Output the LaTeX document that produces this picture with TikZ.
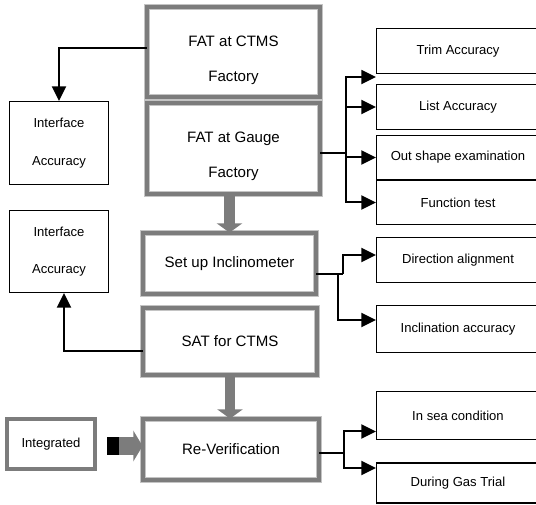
\documentclass[tikz,border=0pt]{standalone}
\usepackage{fontspec}
\setmainfont{Liberation Sans}
\usetikzlibrary{arrows.meta, calc}
\definecolor{bnd}{HTML}{7C7C7C}
\definecolor{rim}{HTML}{C4C4C4}

\begin{document}
\begin{tikzpicture}[>={Triangle[length=11pt, width=10.5pt]}, x=0.75pt, y=-0.75pt,
    line width=1.5pt,
    mainbox/.style 2 args={draw=rim, double=bnd, line width=0.6pt,
      double distance=3.6pt, minimum width=#1*0.75pt, minimum height=#2*0.75pt,
      align=center, inner sep=0pt, font=\fontsize{11.3pt}{13.5pt}\selectfont},
    sidebox/.style 2 args={draw, line width=0.8pt, minimum width=#1*0.75pt,
      minimum height=#2*0.75pt, align=center, inner sep=0pt,
      font=\fontsize{9.8pt}{12pt}\selectfont},
    chkbox/.style={draw, line width=0.8pt, minimum width=163*0.75pt,
      minimum height=#1*0.75pt, inner sep=0pt,
      font=\fontsize{9.8pt}{12pt}\selectfont},
    blockarr/.style={bnd, line width=8pt, -{Triangle[length=7pt, width=19pt]}}]
  \useasboundingbox (0,0) rectangle (536,505);
  % main column
  \node[mainbox={173}{90}] (ctms) at (233.5,52)
    {\rule{0pt}{20pt}FAT at CTMS\\[12.5pt]Factory};
  \node[mainbox={173}{91}] (gauge) at (233.5,148.5)
    {\rule{0pt}{20pt}FAT at Gauge\\[12.5pt]Factory};
  \node[mainbox={173}{61}] (setup) at (229.5,263.5) {Set up Inclinometer};
  \node[mainbox={174}{67}] (sat) at (230,341.5) {SAT for CTMS};
  \node[mainbox={176}{61}] (rever) at (231,449.5) {Re-Verification};
  % left side
  \node[sidebox={99}{83}] (ia1) at (59,143) {Interface\\[16pt]Accuracy};
  \node[sidebox={99}{82}] (ia2) at (59,251.5) {Interface\\[16pt]Accuracy};
  \node[sidebox={88}{50}, draw=rim, double=bnd, line width=0.4pt,
    double distance=2.6pt] (integ) at (51,444) {Integrated};
  % right side checks
  \node[chkbox=45] (trim) at (458,51) {Trim Accuracy};
  \node[chkbox=45] (list) at (458,107) {List Accuracy};
  \node[chkbox=44] (outs) at (458,157.5) {Out shape examination};
  \node[chkbox=44] (func) at (458,202.5) {Function test};
  \node[chkbox=45] (dira) at (458,260) {Direction alignment};
  \node[chkbox=47] (inca) at (458,329) {Inclination accuracy};
  \node[chkbox=48] (insea) at (458,415.5) {In sea condition};
  \node[chkbox=40] (gas) at (458,483) {During Gas Trial};
  % connectors
  \draw[->] ($(ctms.west)+(0,-4)$) -| (ia1.north);
  \draw[->] ($(sat.west)+(0,10)$) -| ($(ia2.south)+(5,0)$);
  \draw ($(gauge.east)+(0,5)$) -- ++(26,0) coordinate (gj);
  \draw[->] (gj) |- ($(trim.south west)+(0,3)$);
  \foreach \t in {list,outs,func}
    \draw[->] (gj) |- (\t.west);
  \draw ($(setup.east)+(0,11)$) -- ++(27,0) coordinate (sj);
  \draw[->] (sj) |- ($(dira.west)+(0,-5)$);
  \draw[->] ($(sj)+(-5,0)$) |- ($(inca.west)+(0,-9)$);
  \draw ($(rever.east)+(0,4)$) -- ++(25,0) coordinate (rj);
  \draw[->] (rj) |- ($(insea.west)+(0,16)$);
  \draw[->] (rj) |- ($(gas.west)+(0,-15)$);
  % block arrows
  \draw[blockarr] (setup.north |- gauge.south) -- (setup.north);
  \draw[blockarr] (sat.south) -- (sat.south |- rever.north);
  \draw[blockarr, line width=14pt, -{Triangle[length=7pt, width=23pt]}]
    ($(integ.east)+(12,2)$) -- ($(integ.east -| rever.west)+(0,2)$);
  \draw[line width=14pt] ($(integ.east)+(12,2)$) -- ++(12,0);
\end{tikzpicture}
\end{document}
